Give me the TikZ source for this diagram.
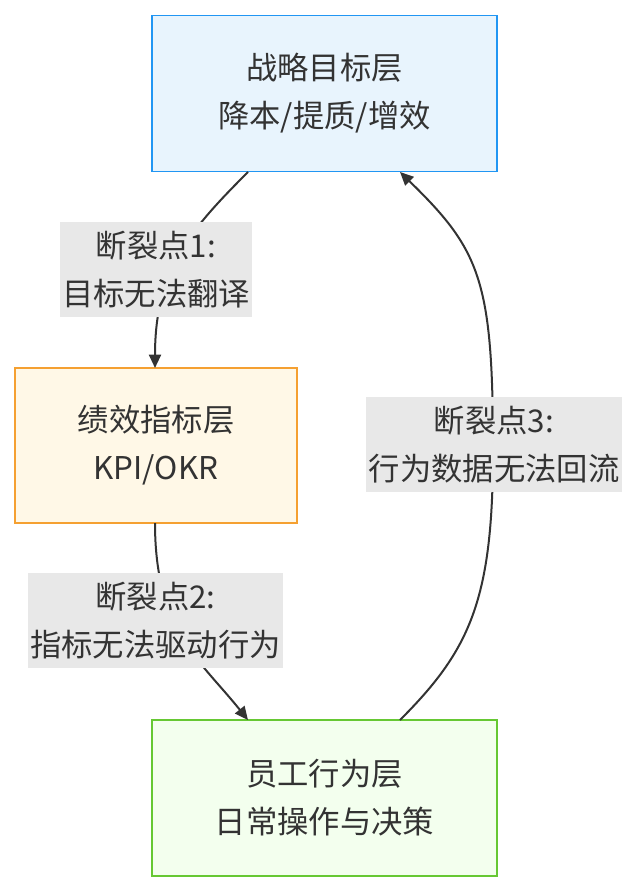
\documentclass[tikz,border=0pt]{standalone}
\usepackage{fontspec}
\setmainfont{Noto Sans CJK SC}
\usetikzlibrary{arrows.meta}
\definecolor{bluefill}{HTML}{E8F4FD}
\definecolor{bluedraw}{HTML}{2196F3}
\definecolor{orangefill}{HTML}{FFF8E7}
\definecolor{orangedraw}{HTML}{F5A031}
\definecolor{greenfill}{HTML}{F3FFEE}
\definecolor{greendraw}{HTML}{66C833}
\definecolor{labelfill}{HTML}{E8E8E8}
\definecolor{linecol}{HTML}{333333}
\begin{document}
\begin{tikzpicture}[x=0.75pt,y=-0.75pt,
  layer/.style={draw,line width=1.2pt,minimum width=345*0.75pt,minimum height=156*0.75pt,
                align=center,font=\fontsize{23.5}{36}\selectfont,text=linecol},
  gap/.style={fill=labelfill,align=center,inner sep=0pt,font=\fontsize{23.5}{36}\selectfont,text=linecol},
  flow/.style={draw=linecol,line width=1.5pt,-{Triangle[length=10pt,width=9pt]}}]
\useasboundingbox (0,0) rectangle (638,892);
\node[layer,fill=bluefill,draw=bluedraw] (goal) at (324.5,93.5) {战略目标层\\降本/提质/增效};
\node[layer,fill=orangefill,draw=orangedraw,minimum width=282*0.75pt,minimum height=155*0.75pt] (kpi) at (156,445.5) {绩效指标层\\KPI/OKR};
\node[layer,fill=greenfill,draw=greendraw] (staff) at (324.5,798) {员工行为层\\日常操作与决策};
% connectors
\coordinate (g1) at (248,172);
\coordinate (k1) at (155,368);
\coordinate (k2) at (155,523);
\coordinate (s1) at (248,720);
\coordinate (s2) at (400,720);
\coordinate (g2) at (400,172);
\draw[flow] (g1) .. controls (190,230) and (155,270) .. (k1);
\draw[flow] (k2) .. controls (155,630) and (200,660) .. (s1);
\draw[flow] (s2) .. controls (470,650) and (493,600) .. (493,450) .. controls (493,280) and (480,250) .. (g2);
% labels
\node[gap,minimum width=192*0.75pt,minimum height=95*0.75pt] (gap1) at (156,269.5) {断裂点1:\\目标无法翻译};
\node[gap,minimum width=255*0.75pt,minimum height=95*0.75pt] (gap2) at (155.5,620.5) {断裂点2:\\指标无法驱动行为};
\node[gap,minimum width=256*0.75pt,minimum height=95*0.75pt] (gap3) at (494,444.5) {断裂点3:\\行为数据无法回流};
\end{tikzpicture}
\end{document}
